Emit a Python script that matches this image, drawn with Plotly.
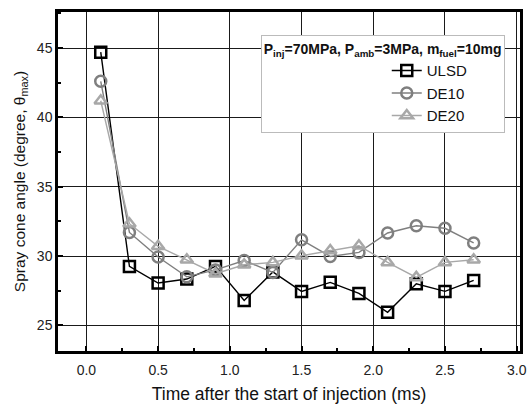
import plotly.graph_objects as go

time_ms = [0.1, 0.3, 0.5, 0.7, 0.9, 1.1, 1.3, 1.5, 1.7, 1.9, 2.1, 2.3, 2.5, 2.7]
ulsd = [44.7, 29.25, 28.05, 28.34, 29.25, 26.8, 28.85, 27.45, 28.1, 27.3, 25.94, 28.0, 27.45, 28.24]
de10 = [42.6, 31.7, 29.93, 28.5, 29.0, 29.68, 28.82, 31.17, 29.97, 30.26, 31.66, 32.18, 32.0, 30.94]
de20 = [41.2, 32.33, 30.7, 29.73, 28.73, 29.37, 29.54, 30.02, 30.4, 30.74, 29.54, 28.46, 29.54, 29.73]

series_names = ["ULSD", "DE10", "DE20"]
series_colors = ["#000000", "#7f7f7f", "#a8a8a8"]
series_symbols = ["square-open", "circle-open", "triangle-up-open"]

fig = go.Figure()
for name, vals, col, sym in zip(series_names, [ulsd, de10, de20], series_colors, series_symbols):
    fig.add_trace(go.Scatter(
        x=time_ms, y=vals, name=name, mode="lines+markers",
        line=dict(color=col, width=1.4),
        marker=dict(symbol=sym, size=11, color=col, line=dict(color=col, width=2.5)),
    ))

axis_common = dict(
    showline=True, linecolor="black", linewidth=2.5, mirror=True,
    showgrid=True, gridcolor="#1a1a1a", gridwidth=1.4,
    ticks="inside", ticklen=5, tickwidth=2, tickcolor="black",
    zeroline=False,
    tickfont=dict(family="Liberation Sans, Arial", size=14, color="#222"),
)

fig.update_xaxes(
    range=[-0.198, 3.023], tick0=0, dtick=0.5, tickformat=".1f",
    ticklabelstandoff=4,
    minor=dict(ticks="inside", ticklen=3, tickwidth=2, tickcolor="black", dtick=0.25, tick0=0, showgrid=False),
    title=dict(text="Time after the start of injection (ms)", font=dict(family="Liberation Sans, Arial", size=17.5, color="#111"), standoff=12),
    **axis_common,
)
fig.update_yaxes(
    range=[23.15, 47.6], tick0=25, dtick=5,
    minor=dict(ticks="inside", ticklen=3, tickwidth=2, tickcolor="black", dtick=2.5, tick0=25, showgrid=False),
    title=dict(text="Spray cone angle (degree, θ<sub>max</sub>)", font=dict(family="Liberation Sans, Arial", size=15.5, color="#111"), standoff=8),
    **axis_common,
)

fig.update_layout(
    width=531, height=406,
    margin=dict(l=58, r=11, t=12, b=55, autoexpand=False),
    plot_bgcolor="white", paper_bgcolor="white",
    showlegend=True,
    legend=dict(
        x=0.967, y=0.932, xanchor="right", yanchor="top",
        bgcolor="white", bordercolor="#bbbbbb", borderwidth=1,
        font=dict(family="Liberation Sans, Arial", size=15, color="#111"),
        title=dict(text="<b>P<sub>inj</sub>=70MPa, P<sub>amb</sub>=3MPa, m<sub>fuel</sub>=10mg</b>",
                   side="top", font=dict(family="Liberation Sans, Arial", size=14, color="#111")),
        indentation=125,
        tracegroupgap=0, itemwidth=30,
    ),
)

fig.write_html("out.html")
